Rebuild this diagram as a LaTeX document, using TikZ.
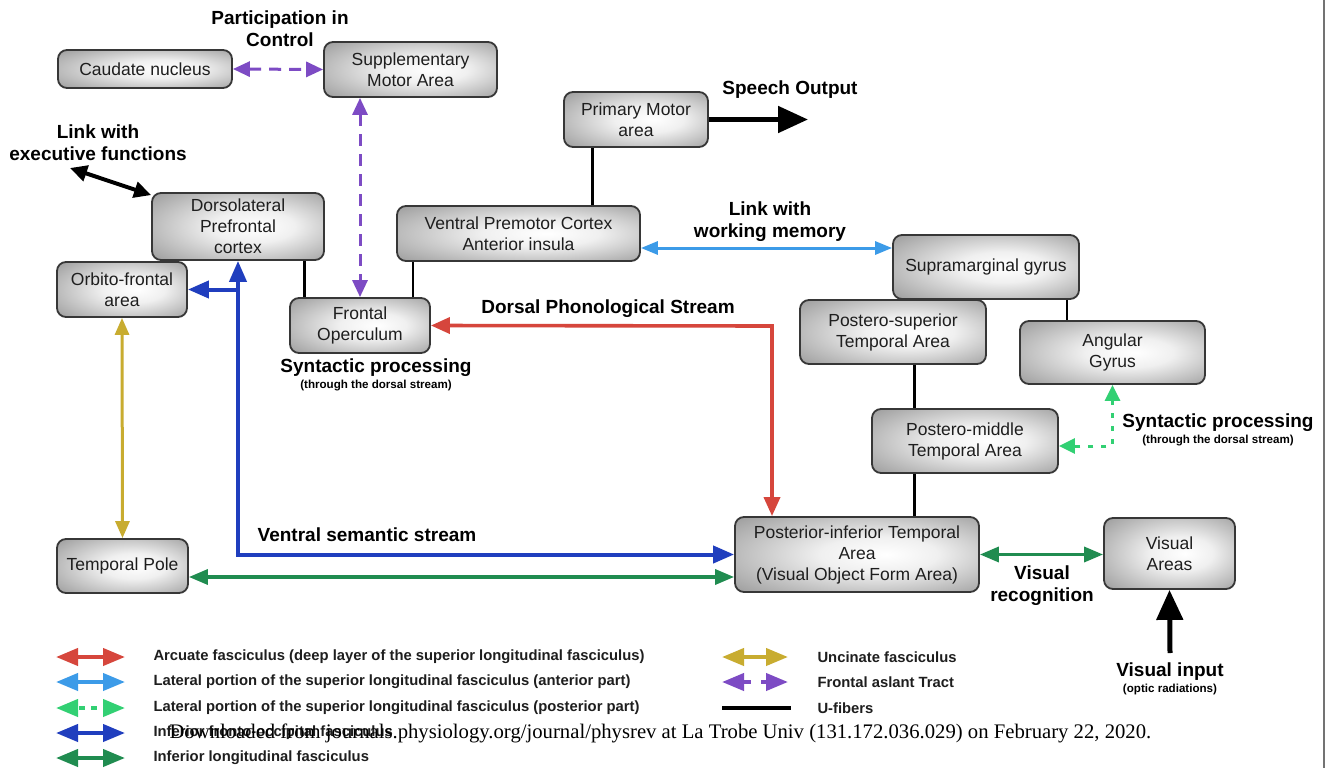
\documentclass[tikz,border=0pt]{standalone}
\usepackage{fontspec}
\setmainfont{Liberation Sans}
\newfontfamily\footserif{Liberation Serif}
\usetikzlibrary{arrows.meta}
\definecolor{arcred}{RGB}{214,70,60}
\definecolor{slfacol}{RGB}{60,155,232}
\definecolor{slfpcol}{RGB}{50,208,115}
\definecolor{ifocol}{RGB}{32,62,190}
\definecolor{ilfcol}{RGB}{32,140,80}
\definecolor{unccol}{RGB}{200,172,48}
\definecolor{fatcol}{RGB}{125,75,196}
\definecolor{boxedge}{RGB}{55,55,55}
\definecolor{boxtext}{RGB}{30,30,30}
\pgfdeclareradialshading{boxshade}{\pgfpoint{6bp}{0bp}}{color(0bp)=(white);color(12bp)=(white!94!black);color(36bp)=(black!38);color(50bp)=(black!50)}
\begin{document}
\begin{tikzpicture}[x=1pt,y=-1pt,
  area/.style={draw=boxedge, line width=1.8pt, rounded corners=9pt, shade, shading=boxshade,
    align=center, text=boxtext, font=\fontsize{17.5}{21}\selectfont, inner sep=0pt},
  lbl/.style={align=center, font=\bfseries\fontsize{19}{22}\selectfont},
  sublbl/.style={align=center, font=\bfseries\fontsize{11.6}{13}\selectfont},
  legtext/.style={anchor=west, text=boxtext, font=\bfseries\fontsize{14.8}{16}\selectfont},
  af/.style={draw=arcred, line width=3.6pt, >={Triangle[length=19pt,width=16pt]}},
  slfa/.style={draw=slfacol, line width=3pt, >={Triangle[length=17pt,width=13pt]}},
  slfp/.style={draw=slfpcol, line width=3pt, dash pattern=on 5pt off 8pt, >={Triangle[length=16pt,width=15pt]}},
  ifo/.style={draw=ifocol, line width=4pt, >={Triangle[length=21pt,width=17pt]}},
  ilf/.style={draw=ilfcol, line width=3.4pt, >={Triangle[length=19pt,width=15pt]}},
  unc/.style={draw=unccol, line width=3pt, >={Triangle[length=17pt,width=14pt]}},
  fat/.style={draw=fatcol, line width=3pt, dash pattern=on 12pt off 8pt, >={Triangle[length=17pt,width=15pt]}},
  ufib/.style={draw=black, line width=2.8pt},
  bigarrow/.style={draw=black, line width=5pt, >={Triangle[length=30pt,width=26pt]}},
  exarrow/.style={draw=black, line width=4pt, >={Triangle[length=17pt,width=16pt]}},
  legarrow/.style={line width=4pt, >={Triangle[length=22pt,width=17pt]}}
]
\path[use as bounding box] (0,0) rectangle (1327,768);
\fill[white] (0,0) rectangle (1327,768);
\draw[black!55, line width=1.5pt] (1324,0) -- (1324,768);

% boxes
\node[area, minimum width=174pt, minimum height=38pt] (caud) at (145,69) {Caudate nucleus};
\node[area, minimum width=173pt, minimum height=55pt] (sma) at (410.5,69.5) {Supplementary\\Motor Area};
\node[area, minimum width=172pt, minimum height=67pt] (dlpfc) at (238,226.5) {Dorsolateral\\Prefrontal\\cortex};
\node[area, minimum width=130pt, minimum height=55pt] (orb) at (122,289.5) {Orbito-frontal\\area};
\node[area, minimum width=140pt, minimum height=55pt] (fo) at (360,325.5) {Frontal\\Operculum};
\node[area, minimum width=243pt, minimum height=55pt] (vpc) at (518.5,233.5) {Ventral Premotor Cortex\\Anterior insula};
\node[area, minimum width=144pt, minimum height=55pt] (pma) at (636,119.5) {Primary Motor\\area};
\node[area, minimum width=186pt, minimum height=64pt] (smg) at (986,267) {Supramarginal gyrus};
\node[area, minimum width=186pt, minimum height=64pt] (pst) at (893,332) {Postero-superior\\Temporal Area};
\node[area, minimum width=185pt, minimum height=63pt] (ang) at (1112.5,352.5) {Angular\\Gyrus};
\node[area, minimum width=186pt, minimum height=64pt] (pmt) at (965,441) {Postero-middle\\Temporal Area};
\node[area, minimum width=244pt, minimum height=75pt] (pit) at (857,554.5) {Posterior-inferior Temporal\\Area\\(Visual Object Form Area)};
\node[area, minimum width=131pt, minimum height=71pt] (vis) at (1169.5,553.5) {Visual\\Areas};
\node[area, minimum width=131pt, minimum height=54pt] (tp) at (122.5,566) {Temporal Pole};

% labels
\node[lbl] (lpart) at (280,29) {Participation in\\Control};
\node[lbl] (lexec) at (98,143) {Link with\\executive functions};
\node[lbl] (lspeech) at (790,90) {Speech Output};
\node[lbl] (lwm) at (770,222) {Link with\\working memory};
\node[lbl] (ldorsal) at (608,309) {Dorsal Phonological Stream};
\node[lbl] (lsyn1) at (376,368) {Syntactic processing};
\node[sublbl] (lsyn1s) at (376,386) {(through the dorsal stream)};
\node[lbl] (lsyn2) at (1218,423) {Syntactic processing};
\node[sublbl] (lsyn2s) at (1218,441) {(through the dorsal stream)};
\node[lbl] (lvent) at (367,535) {Ventral semantic stream};
\node[lbl] (lvrec) at (1042,586) {Visual\\recognition};
\node[lbl] (lvin) at (1170,672) {Visual input};
\node[sublbl] (lvins) at (1170,689) {(optic radiations)};

% free ends
\coordinate (execend) at (70,168);
\coordinate (speechend) at (808,119.5);
\coordinate (redcorner) at (772,326);
\coordinate (vinstart) at (1170,653);

% U-fibers
\draw[ufib] ([xshift=15pt]fo.north west) -- ([xshift=15pt]fo.north west |- dlpfc.south);
\draw[ufib] ([xshift=-18pt]fo.north east) -- ([xshift=-18pt]fo.north east |- vpc.south);
\draw[ufib] ([xshift=29pt]pma.south west) -- ([xshift=29pt]pma.south west |- vpc.north);
\draw[ufib] ([xshift=-13pt]smg.south east) -- ([xshift=-13pt]smg.south east |- ang.north);
\draw[ufib] ([xshift=43pt]pmt.north west) -- ([xshift=43pt]pmt.north west |- pst.south);
\draw[ufib] ([xshift=43pt]pmt.south west) -- ([xshift=43pt]pmt.south west |- pit.north);

% tracts
\draw[fat,<->] (caud.east) -- (sma.west);
\draw[fat,<->] (fo.north |- sma.south) -- (fo.north);
\draw[exarrow,<->] (execend) -- ([yshift=-3pt]dlpfc.north west);
\draw[bigarrow,->] (pma.east) -- (speechend);
\draw[slfa,<->] ([yshift=-14.5pt]vpc.east) -- ([yshift=-14.5pt]vpc.east -| smg.west);
\draw[af,<->] (fo.east) -- (redcorner) -- (redcorner |- pit.north);
\draw[ifo,<->] (pit.west) -| (dlpfc.south);
\draw[ifo,->] (dlpfc.south |- orb.east) -- (orb.east);
\draw[ilf,<->] ([yshift=-11pt]tp.east) -- ([yshift=-11pt]tp.east -| pit.west);
\draw[unc,<->] (orb.south) -- (tp.north);
\draw[slfp,<->] (ang.south) |- ([yshift=-5pt]pmt.east);
\draw[ilf,<->] (pit.east) -- (pit.east -| vis.west);
\draw[bigarrow,->] (vinstart) -- (vis.south);

% legend
\node[legtext] (lg1) at (150,657) {Arcuate fasciculus (deep layer of the superior longitudinal fasciculus)};
\node[legtext] (lg2) at (150,682) {Lateral portion of the superior longitudinal fasciculus (anterior part)};
\node[legtext] (lg3) at (150,708) {Lateral portion of the superior longitudinal fasciculus (posterior part)};
\node[legtext] (lg4) at (150,733) {Inferior fronto-occipital fasciculus};
\node[legtext] (lg5) at (150,758) {Inferior longitudinal fasciculus};
\node[legtext] (lg6) at (814,657) {Uncinate fasciculus};
\node[legtext] (lg7) at (814,682) {Frontal aslant Tract};
\node[legtext] (lg8) at (814,708) {U-fibers};

\draw[legarrow, draw=arcred, <->] ([xshift=-94pt]lg1.west) -- ([xshift=-25pt]lg1.west);
\draw[legarrow, draw=slfacol, <->] ([xshift=-94pt]lg2.west) -- ([xshift=-25pt]lg2.west);
\draw[legarrow, draw=slfpcol, <->, dash pattern=on 6pt off 6pt, dash phase=-2pt] ([xshift=-94pt]lg3.west) -- ([xshift=-25pt]lg3.west);
\draw[legarrow, draw=ifocol, <->] ([xshift=-94pt]lg4.west) -- ([xshift=-25pt]lg4.west);
\draw[legarrow, draw=ilfcol, <->] ([xshift=-94pt]lg5.west) -- ([xshift=-25pt]lg5.west);
\draw[legarrow, draw=unccol, <->] ([xshift=-92pt]lg6.west) -- ([xshift=-26pt]lg6.west);
\draw[legarrow, draw=fatcol, <->, dash pattern=on 8pt off 10pt] ([xshift=-92pt]lg7.west) -- ([xshift=-26pt]lg7.west);
\draw[line width=3.5pt, black] ([xshift=-92pt]lg8.west) -- ([xshift=-23pt]lg8.west);

\node[anchor=west, font=\footserif\fontsize{20.7}{23}\selectfont] (foot) at (166,733) {Downloaded from journals.physiology.org/journal/physrev at La Trobe Univ (131.172.036.029) on February 22, 2020.};
\end{tikzpicture}
\end{document}
